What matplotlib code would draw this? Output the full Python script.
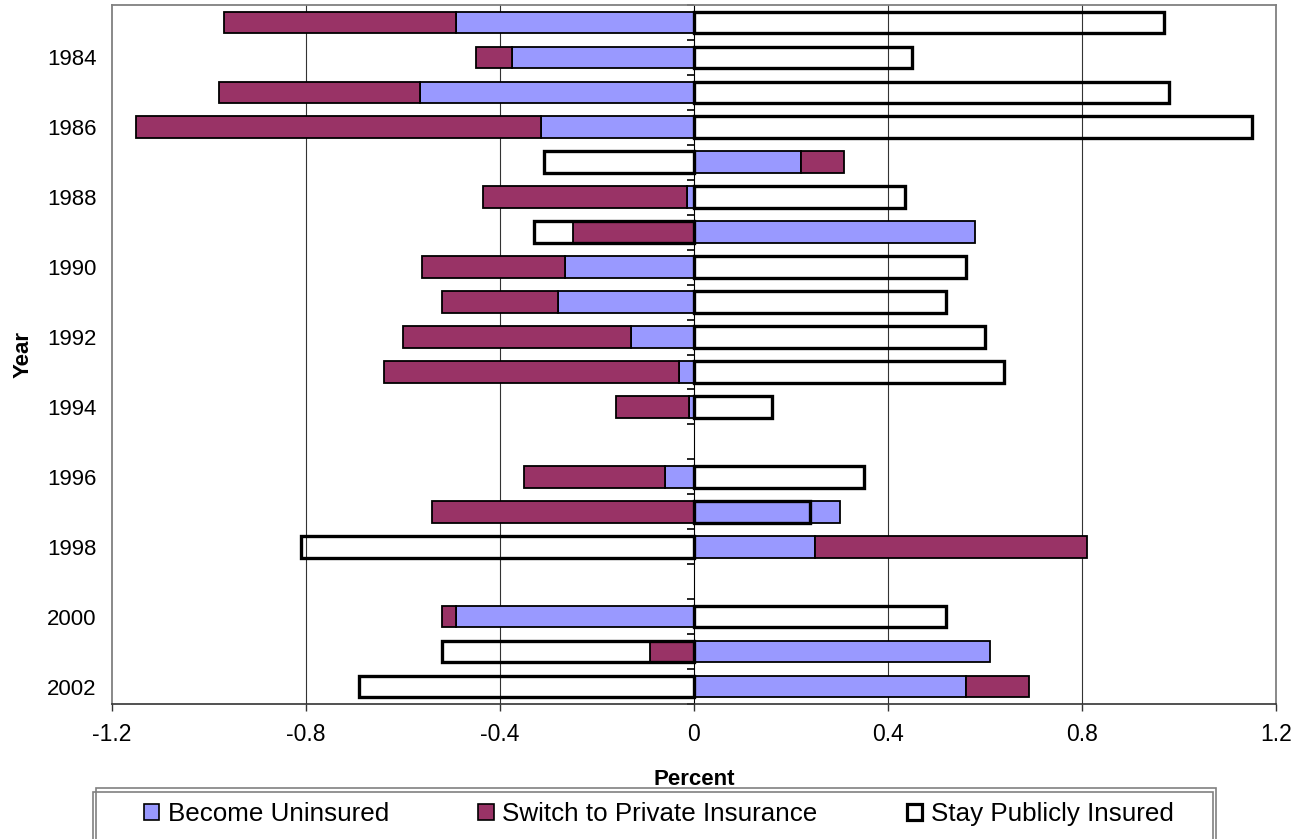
import numpy as np
import matplotlib.pyplot as plt
from matplotlib.patches import Patch, Rectangle

plt.rcParams['font.family'] = ['Liberation Sans', 'DejaVu Sans']

# yearly change in coverage share, percent (nan = no value that year)
years = np.arange(1983, 2003)
uninsured = [-0.49, -0.375, -0.565, -0.315, 0.22, -0.015, 0.58, -0.265, -0.28, -0.13,
             -0.03, -0.01, np.nan, -0.06, 0.30, 0.25, np.nan, -0.49, 0.61, 0.56]
private = [-0.48, -0.075, -0.415, -0.835, 0.09, -0.42, -0.25, -0.295, -0.24, -0.47,
           -0.61, -0.15, np.nan, -0.29, -0.54, 0.56, np.nan, -0.03, -0.09, 0.13]
public = [0.97, 0.45, 0.98, 1.15, -0.31, 0.435, -0.33, 0.56, 0.52, 0.60,
          0.64, 0.16, np.nan, 0.35, 0.24, -0.81, np.nan, 0.52, -0.52, -0.69]
year_labels = [str(y) for y in range(1984, 2003, 2)]
xticks = [-1.2, -0.8, -0.4, 0, 0.4, 0.8, 1.2]

blue = '#9999FF'
plum = '#993366'

u = np.array(uninsured)
p = np.array(private)
s = np.array(public)
ok = ~np.isnan(u)

# private stacks onto uninsured when both point the same way
p_left = np.where(np.sign(p) == np.sign(u), u, 0.0)

fig = plt.figure(figsize=(13.06, 8.39), dpi=100)
ax = fig.add_axes([112 / 1306, 1 - 704 / 839, 1164 / 1306, 699 / 839])

h = 0.62
ax.barh(years[ok], u[ok], height=h, color=blue, edgecolor='black', linewidth=1.3, zorder=3)
ax.barh(years[ok], p[ok], left=p_left[ok], height=h, color=plum, edgecolor='black',
        linewidth=1.3, zorder=3)
ax.barh(years[ok], s[ok], height=h, facecolor='none', edgecolor='black', linewidth=2.4,
        zorder=4)

ax.set_xlim(-1.2, 1.2)
ax.set_ylim(2002.5, 1982.5)

ax.set_xticks(xticks)
ax.set_xticklabels(['-1.2', '-0.8', '-0.4', '0', '0.4', '0.8', '1.2'])
ax.tick_params(axis='x', direction='out', length=5, width=1, color='#333333',
               labelsize=16.5, pad=9)
ax.set_yticks(range(1984, 2003, 2))
ax.set_yticklabels(year_labels)
ax.tick_params(axis='y', length=0, labelsize=16, pad=11)

for x in [-0.8, -0.4, 0.4, 0.8]:
    ax.axvline(x, color='#333333', linewidth=0.8, zorder=1)

for side in ['left', 'top', 'right']:
    ax.spines[side].set_color('#808080')
    ax.spines[side].set_linewidth(1.3)
ax.spines['bottom'].set_color('#333333')
ax.spines['bottom'].set_linewidth(1.2)

# zero axis with ticks between the years
zero = ax.secondary_yaxis(0.5)
zero.set_yticks(np.arange(1982.5, 2003, 1.0))
zero.set_yticklabels([])
zero.tick_params(direction='in', length=5, width=1.2, color='black')
zero.spines['left'].set_color('black')
zero.spines['left'].set_linewidth(1.2)
zero.spines['left'].set_zorder(5)

ax.set_xlabel('Percent', fontsize=16, fontweight='bold', labelpad=16)
ax.set_ylabel('Year', fontsize=16, fontweight='bold', labelpad=10)

handles = [Patch(facecolor=blue, edgecolor='black', linewidth=1.2),
           Patch(facecolor=plum, edgecolor='black', linewidth=1.2),
           Patch(facecolor='white', edgecolor='black', linewidth=2.3)]
fig.legend(handles, ['Become Uninsured', 'Switch to Private Insurance', 'Stay Publicly Insured'],
           loc='center left', bbox_to_anchor=(144 / 1306, 1 - 814 / 839), ncol=3,
           frameon=False, fontsize=18.7, handlelength=0.58, handleheight=0.58,
           handletextpad=0.33, columnspacing=3.45, borderpad=0, borderaxespad=0)

# legend box with a small offset shadow, running off the bottom edge
fig.patches.append(Rectangle((96 / 1306, -0.05), 1120 / 1306, 0.05 + (839 - 788) / 839,
                             transform=fig.transFigure, fill=False, edgecolor='#808080',
                             linewidth=1.2))
fig.patches.append(Rectangle((93 / 1306, -0.05), 1120 / 1306, 0.05 + (839 - 792) / 839,
                             transform=fig.transFigure, facecolor='white', edgecolor='#808080',
                             linewidth=1.2, zorder=0.5))

fig.savefig('out.png', dpi=100)
